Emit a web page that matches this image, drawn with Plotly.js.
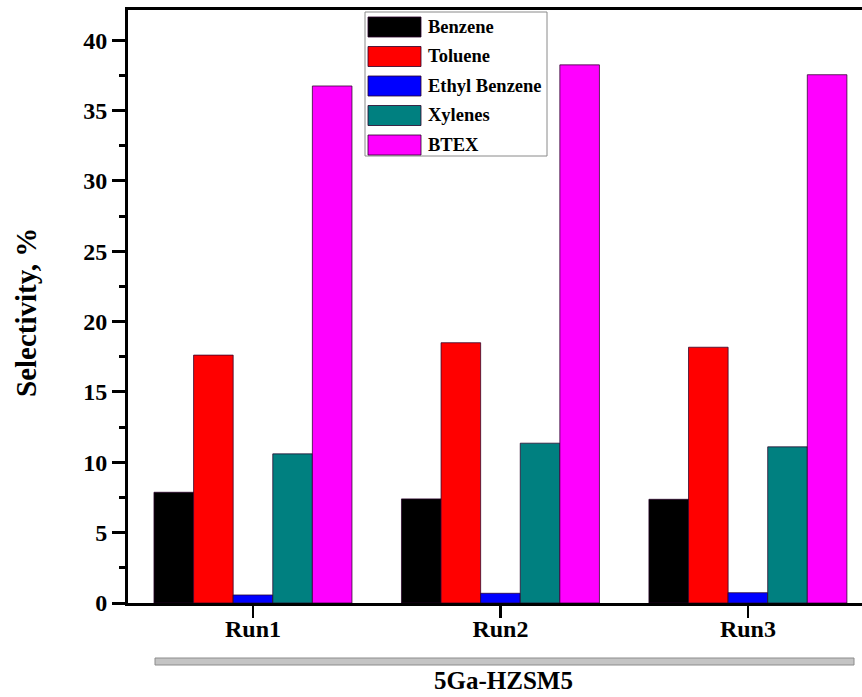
<!DOCTYPE html>
<html>
<head>
<meta charset="utf-8">
<script src="https://cdn.plot.ly/plotly-3.0.1.min.js"></script>
<style>html,body{margin:0;padding:0;background:#fff;overflow:hidden}#chart{width:862px;height:697px}</style>
</head>
<body>
<div id="chart"></div>
<script>
// ---- data ----
const categories = ["Run1", "Run2", "Run3"];
const seriesNames = ["Benzene", "Toluene", "Ethyl Benzene", "Xylenes", "BTEX"];
const benzene = [7.87, 7.40, 7.37];
const toluene = [17.62, 18.50, 18.18];
const ethylBenzene = [0.57, 0.69, 0.73];
const xylenes = [10.60, 11.36, 11.10];
const btex = [36.75, 38.25, 37.55];
const seriesColors = ["#000000", "#ff0000", "#0000ff", "#008080", "#ff00ff"];
const groupTitle = "5Ga-HZSM5";
const yTitle = "Selectivity, %";

const seriesValues = [benzene, toluene, ethylBenzene, xylenes, btex];
const FONT = "Times New Roman, Liberation Serif, serif";

// plot geometry (pixels)
const W = 862, H = 697;
const M = {l: 128, r: 0, t: 10, b: 94};
const PW = W - M.l - M.r, PH = H - M.t - M.b;
const px = x => (x - M.l) / PW;
const py = y => (H - M.b - y) / PH;

const traces = seriesNames.map((name, i) => ({
  type: "bar",
  name: name,
  x: categories,
  y: seriesValues[i],
  marker: {color: seriesColors[i], line: {color: "rgba(40,0,40,0.75)", width: 1}},
  showlegend: false
}));

const shapes = [];
const annotations = [];

// custom legend box
shapes.push({type: "rect", xref: "paper", yref: "paper",
  x0: px(365), x1: px(547), y0: py(156), y1: py(12),
  line: {color: "#8a8a8a", width: 1}, fillcolor: "#ffffff", layer: "above"});
const rowCenters = [27, 56.5, 86, 115.5, 145];
seriesNames.forEach((name, i) => {
  const c = rowCenters[i];
  shapes.push({type: "rect", xref: "paper", yref: "paper",
    x0: px(368), x1: px(421), y0: py(c + 10), y1: py(c - 10),
    fillcolor: seriesColors[i], line: {color: "rgba(40,0,40,0.8)", width: 1}, layer: "above"});
  annotations.push({xref: "paper", yref: "paper", x: px(426), y: py(c),
    xanchor: "left", yanchor: "middle", showarrow: false, text: name,
    font: {family: FONT, size: 18.5, color: "#000", weight: "bold"}});
});

// gray bracket bar under categories
shapes.push({type: "rect", xref: "paper", yref: "paper",
  x0: px(155), x1: px(854), y0: py(665), y1: py(658),
  fillcolor: "#c4c4c4", line: {color: "#8c8c8c", width: 1}});

// group title
annotations.push({xref: "paper", yref: "paper", x: px(503), y: py(680),
  xanchor: "center", yanchor: "middle", showarrow: false, text: groupTitle,
  font: {family: FONT, size: 25, color: "#000", weight: "bold"}});

// y title
annotations.push({xref: "paper", yref: "paper", x: px(26), y: py(313),
  xanchor: "center", yanchor: "middle", showarrow: false, text: yTitle, textangle: -90,
  font: {family: FONT, size: 29, color: "#000", weight: "bold"}});

const layout = {
  width: W, height: H,
  margin: M,
  paper_bgcolor: "#fff", plot_bgcolor: "#fff",
  barmode: "group", bargap: 0.2, bargroupgap: 0,
  font: {family: FONT, color: "#000"},
  xaxis: {
    type: "category",
    range: [-0.505, 2.461],
    showline: true, linecolor: "#000", linewidth: 3, mirror: true,
    ticks: "outside", ticklen: 12, tickwidth: 2.5, tickcolor: "#000",
    ticklabelstandoff: -10,
    showgrid: false, zeroline: false,
    tickfont: {family: FONT, size: 24, color: "#000", weight: "bold"}
  },
  yaxis: {
    range: [0, 42.15],
    dtick: 5, tick0: 0,
    showline: true, linecolor: "#000", linewidth: 3, mirror: false,
    ticks: "outside", ticklen: 13, tickwidth: 3, tickcolor: "#000",
    minor: {dtick: 2.5, ticks: "outside", ticklen: 6, tickwidth: 3, tickcolor: "#000", showgrid: false},
    showgrid: false, zeroline: false,
    tickfont: {family: FONT, size: 24, color: "#000", weight: "bold"}
  },
  shapes: shapes,
  annotations: annotations
};

Plotly.newPlot("chart", traces, layout, {staticPlot: true, displayModeBar: false});
</script>
</body>
</html>
